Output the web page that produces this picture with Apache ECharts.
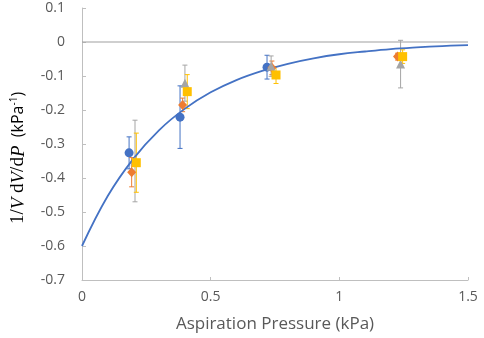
<!DOCTYPE html>
<html lang="en">
<head>
    <meta charset="UTF-8">
    <title>Aspiration Pressure</title>
    <style>
        body { margin: 0; background: #fff; }
        #chart { width: 484px; height: 338px; }
    </style>
    <script src="https://cdn.jsdelivr.net/npm/echarts/dist/echarts.min.js"></script>
</head>
<body>
<div id="chart"></div>
<script>
    // Measured points (x in kPa, y in 1/kPa) and error half-widths
    var blueX = [0.183, 0.381, 0.719];
    var blueY = [-0.326, -0.221, -0.074];
    var blueErr = [0.047, 0.092, 0.035];

    var orangeX = [0.193, 0.391, 0.738, 1.226];
    var orangeY = [-0.383, -0.185, -0.076, -0.043];
    var orangeErr = [0.043, 0.020, 0.020, 0.010];

    var greyX = [0.206, 0.400, 0.735, 1.238];
    var greyY = [-0.350, -0.121, -0.071, -0.065];
    var greyErr = [0.120, 0.053, 0.030, 0.070];

    var yellowX = [0.211, 0.409, 0.754, 1.246];
    var yellowY = [-0.355, -0.146, -0.097, -0.043];
    var yellowErr = [0.087, 0.050, 0.025, 0.020];

    // Fitted curve
    var curveX = [0, 0.1, 0.2, 0.3, 0.4, 0.5, 0.6, 0.7, 0.8, 0.9, 1.0, 1.1, 1.2, 1.3, 1.4, 1.5];
    var curveY = [-0.600, -0.453, -0.343, -0.259, -0.196, -0.148, -0.112, -0.085, -0.064, -0.048, -0.036, -0.028, -0.021, -0.016, -0.012, -0.009];

    var chart = echarts.init(document.getElementById('chart'));

    function pairs(xs, ys) {
        return xs.map(function (x, i) { return [x, ys[i]]; });
    }

    function errorSeries(xs, ys, errs, color) {
        return {
            type: 'custom',
            silent: true,
            z: 2,
            data: xs.map(function (x, i) { return [x, ys[i] - errs[i], ys[i] + errs[i]]; }),
            renderItem: function (params, api) {
                var lo = api.coord([api.value(0), api.value(1)]);
                var hi = api.coord([api.value(0), api.value(2)]);
                var w = 2.5;
                var style = { stroke: color, lineWidth: 1 };
                return {
                    type: 'group',
                    children: [
                        { type: 'line', shape: { x1: lo[0], y1: lo[1], x2: hi[0], y2: hi[1] }, style: style },
                        { type: 'line', shape: { x1: lo[0] - w, y1: lo[1], x2: lo[0] + w, y2: lo[1] }, style: style },
                        { type: 'line', shape: { x1: hi[0] - w, y1: hi[1], x2: hi[0] + w, y2: hi[1] }, style: style }
                    ]
                };
            }
        };
    }

    function pointSeries(xs, ys, symbol, size, color) {
        return {
            type: 'scatter',
            z: 4,
            symbol: symbol,
            symbolSize: size,
            itemStyle: { color: color, opacity: 1 },
            data: pairs(xs, ys)
        };
    }

    var axisFont = { fontFamily: 'Open Sans', fontSize: 14, color: '#595959' };

    chart.setOption({
        animation: false,
        grid: { left: 82, right: 16, top: 8, bottom: 58 },
        xAxis: {
            type: 'value',
            min: 0, max: 1.5, interval: 0.5,
            name: 'Aspiration Pressure (kPa)',
            nameLocation: 'middle',
            nameGap: 36,
            nameTextStyle: { fontFamily: 'Open Sans', fontSize: 17, color: '#595959' },
            axisLine: { onZero: false, lineStyle: { color: '#bfbfbf' } },
            axisTick: { show: true, inside: true, length: 3, lineStyle: { color: '#bfbfbf' } },
            axisLabel: Object.assign({ margin: 10 }, axisFont),
            splitLine: { show: false }
        },
        yAxis: {
            type: 'value',
            min: -0.7, max: 0.1, interval: 0.1,
            name: '{s|1/}{i|V}{s| d}{i|V}{s|/d}{i|P}{g|  (kPa}{sup|-1}{g|)}',
            nameLocation: 'middle',
            nameRotate: 90,
            nameGap: 54,
            nameTextStyle: {
                padding: [0, 28, 0, 0],
                rich: {
                    s: { fontFamily: 'Liberation Serif', fontSize: 19, color: '#000' },
                    i: { fontFamily: 'Liberation Serif', fontSize: 19, fontStyle: 'italic', color: '#000' },
                    g: { fontFamily: 'Open Sans', fontSize: 16, color: '#000' },
                    sup: { fontFamily: 'Open Sans', fontSize: 10, color: '#000', padding: [0, 0, 9, 0] }
                }
            },
            axisLine: { show: true, lineStyle: { color: '#bfbfbf' } },
            axisTick: { show: true, inside: true, length: 4, lineStyle: { color: '#bfbfbf' } },
            axisLabel: Object.assign({
                margin: 17,
                formatter: function (v) { return String(Math.round(v * 10) / 10); }
            }, axisFont),
            splitLine: { show: false }
        },
        series: [
            {
                type: 'line',
                z: 1,
                data: pairs([0, 1.5], [0, 0]),
                showSymbol: false,
                silent: true,
                lineStyle: { color: '#a0a0a0', width: 1.2 }
            },
            {
                type: 'line',
                z: 3,
                smooth: 0.4,
                showSymbol: false,
                data: pairs(curveX, curveY),
                lineStyle: { color: '#4472c4', width: 1.8 }
            },
            errorSeries(blueX, blueY, blueErr, '#4472c4'),
            pointSeries(blueX, blueY, 'circle', 9, '#4472c4'),
            errorSeries(orangeX, orangeY, orangeErr, '#ed7d31'),
            pointSeries(orangeX, orangeY, 'diamond', [9, 10], '#ed7d31'),
            errorSeries(greyX, greyY, greyErr, '#a5a5a5'),
            pointSeries(greyX, greyY, 'triangle', 9, '#a5a5a5'),
            errorSeries(yellowX, yellowY, yellowErr, '#ffc000'),
            pointSeries(yellowX, yellowY, 'rect', 9, '#ffc000')
        ]
    });
</script>
</body>
</html>
